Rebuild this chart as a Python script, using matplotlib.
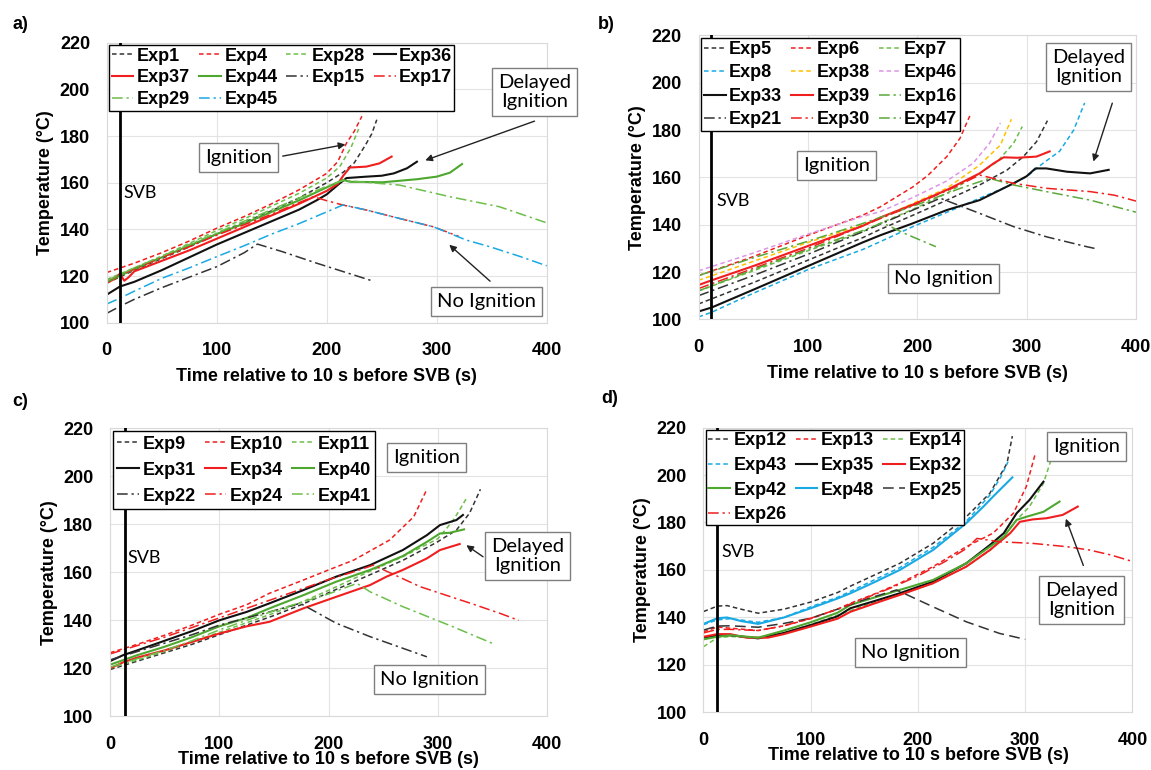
import matplotlib
matplotlib.use('Agg')
import matplotlib.pyplot as plt

plt.rcParams['font.family'] = ['Liberation Sans', 'DejaVu Sans']

# ---------------- data: (time s, temperature degC) ----------------
# panel a
exp1 = [(0, 117), (25, 122.5), (50, 127.5), (75, 132.5), (100, 138), (125, 143), (150, 148), (175, 153.5),
        (200, 160), (215, 164.5), (225, 168.5), (235, 176), (241, 181), (245.5, 187)]
exp4 = [(0, 121.5), (25, 125.5), (50, 130), (75, 135), (100, 140.5), (125, 145.5), (150, 151), (175, 157),
        (200, 164), (210, 169), (218, 177), (225, 182), (232, 188.5)]
exp28 = [(0, 118.5), (25, 123.5), (50, 128.5), (75, 134), (100, 139.5), (125, 144.5), (150, 150), (175, 155.5),
         (200, 162), (212, 167), (222, 175), (229, 183)]
exp36 = [(0, 112), (12, 115.5), (25, 117.5), (50, 122.5), (75, 128), (100, 133.5), (125, 138.5), (150, 143.5),
         (175, 148.5), (191, 152.5), (200, 155), (212, 159.8), (218, 162), (236, 162.6), (250, 163), (261, 164),
         (273, 166.2), (282, 169)]
exp37 = [(0, 117), (8, 119), (12, 121), (16, 118), (20, 119.5), (25, 122), (50, 126.5), (75, 131), (100, 136),
         (125, 141), (150, 146), (175, 151), (200, 156.5), (210, 159.5), (215, 163), (221, 166.5), (236, 166.9),
         (248, 168.3), (259, 171.2)]
exp44 = [(0, 117.5), (25, 123), (50, 128), (75, 133), (100, 138), (125, 142.5), (150, 147.5), (175, 152.5),
         (200, 158), (215, 161.2), (221, 160.4), (251, 160.2), (282, 161.5), (300, 162.6), (312, 164.3), (323, 168)]
exp15 = [(0, 104), (12, 107), (25, 110), (50, 115), (75, 119.5), (100, 124), (125, 130), (137, 133.7),
         (160, 130.4), (191, 125.5), (215, 121.9), (241, 118)]
exp17 = [(0, 118), (25, 123), (50, 128), (75, 132.5), (100, 137.5), (125, 142), (150, 146.5), (175, 151.5),
         (188, 154), (200, 152.3), (215, 150.4), (236, 148.3), (266, 144.7), (297, 141.1), (320, 137)]
exp29 = [(0, 118), (25, 123.5), (50, 128.5), (75, 133.5), (100, 138.5), (125, 143.5), (150, 148.5), (175, 153.5),
         (200, 158.5), (215, 161), (240, 160), (266, 159), (312, 154), (357, 149.7), (400, 142.8)]
exp45 = [(0, 108), (12, 110.5), (25, 113.5), (50, 119), (75, 123.5), (100, 128.3), (125, 133), (150, 138),
         (175, 142.5), (200, 147.5), (215, 150.5), (236, 148.3), (266, 144.7), (297, 141.1), (327, 135.4),
         (348, 132.6), (375, 128.5), (400, 124.4)]

# panel b
exp5 = [(0, 106.5), (50, 115.5), (100, 125), (150, 134.5), (166, 138), (196, 144), (227, 150.4), (257, 156.8),
        (282, 163.1), (297, 168.8), (309, 175.1), (319, 184)]
exp6 = [(0, 118.5), (50, 126.5), (100, 135.5), (150, 144), (166, 147.5), (196, 156), (210, 161), (227, 168.8),
        (239, 176.5), (248, 186)]
exp7 = [(0, 112), (50, 120.5), (100, 129), (150, 137), (166, 140.6), (196, 146.5), (227, 153.3), (257, 161.7),
        (273, 166.6), (288, 174.4), (296, 181.5)]
exp8 = [(0, 101), (12, 103), (50, 111), (100, 121), (150, 129.5), (166, 132.8), (196, 139.2), (239, 147.6),
        (257, 151.2), (282, 156.1), (300, 160.3), (315, 166), (330, 171), (343, 180), (353, 191.5)]
exp38 = [(0, 116.5), (50, 124.5), (100, 132.5), (150, 140), (166, 142.7), (196, 149), (227, 155.4), (257, 165.2),
         (276, 173.7), (286, 184.6)]
exp46 = [(0, 120.5), (50, 128), (100, 136), (150, 143.5), (166, 145.5), (196, 151.5), (227, 158.5), (251, 166),
         (266, 174.4), (276, 183)]
exp33 = [(0, 103.3), (12, 105), (50, 112.5), (100, 122.5), (150, 132.5), (166, 135.5), (196, 140.6), (227, 146.2),
         (257, 150.4), (288, 157.5), (300, 160.5), (308, 163.8), (318, 163.8), (337, 162.4), (358, 161.7),
         (375, 163.2)]
exp39 = [(0, 114.5), (12, 116.5), (50, 122.5), (100, 131), (150, 139.5), (166, 143), (196, 148.5), (227, 154.7),
         (257, 161.7), (270, 166), (279, 168.5), (291, 168.3), (309, 168.8), (321, 171)]
exp16 = [(0, 118.5), (50, 126), (100, 133), (150, 140.5), (200, 148.5), (240, 155.5), (266, 159.6), (288, 156.8),
         (318, 154), (358, 150.4), (400, 145.3)]
exp21 = [(0, 110), (50, 118.5), (100, 127.5), (150, 137), (175, 142), (200, 147), (221, 151.2), (257, 144.8),
         (288, 139.2), (318, 134.9), (355, 130.7), (362, 130)]
exp30 = [(0, 113), (50, 121.5), (100, 130), (150, 139.5), (200, 149), (230, 155), (257, 161), (288, 157.5),
         (318, 155.4), (358, 154), (380, 152.5), (400, 150)]
exp47 = [(0, 112), (50, 121), (100, 129.5), (150, 137.5), (168, 140.8), (190, 136), (217, 130.7)]

# panel c
exp9 = [(0, 119.5), (25, 123), (50, 126.5), (75, 130), (100, 134), (125, 138), (150, 142), (175, 146.5),
        (200, 151.5), (238, 159), (268, 165), (299, 172.5), (317, 177.6), (329, 184.6), (339, 194.6)]
exp10 = [(0, 126.5), (25, 130), (50, 133.8), (75, 138), (100, 142.5), (125, 146.5), (146, 151.3), (177, 156.8),
         (200, 161), (223, 165.1), (256, 173.5), (278, 183.2), (290, 194.6)]
exp11 = [(0, 120), (25, 123.5), (50, 127), (75, 131), (100, 135), (125, 139), (150, 143), (175, 147.5),
         (200, 152.5), (238, 160.5), (268, 166.5), (300, 174), (313, 181), (320, 186), (327, 191.5)]
exp31 = [(0, 123), (12, 125.5), (25, 127.5), (50, 131.5), (75, 135.5), (100, 140), (125, 143.5), (146, 147.1),
         (177, 152.6), (207, 158.2), (238, 163), (268, 169.3), (290, 175.5), (302, 179.7), (317, 181.8),
         (323, 183.9)]
exp34 = [(0, 120), (12, 122.5), (25, 124.5), (50, 127.5), (75, 131), (100, 134.5), (125, 137.5), (146, 139.4),
         (177, 145), (207, 149.8), (238, 154.7), (253, 158.2), (268, 161), (290, 165.8), (302, 169.3), (320, 171.8)]
exp40 = [(0, 121.5), (25, 125.5), (50, 129), (75, 133), (100, 137.5), (125, 141), (146, 145), (177, 150.5),
         (207, 156.1), (238, 161), (268, 166.8), (290, 172.7), (302, 176.2), (311, 176.5), (324, 177.9)]
exp22 = [(0, 123.5), (25, 127), (50, 130.5), (75, 134), (100, 138), (125, 141), (150, 144), (174, 147.1),
         (207, 138.8), (238, 133.2), (290, 124.8)]
exp24 = [(0, 126), (25, 129.5), (50, 133), (75, 137), (100, 141), (125, 145), (150, 149), (175, 153),
         (200, 157), (225, 160.5), (241, 163), (284, 154), (330, 147.1), (357, 142.9), (374, 140)]
exp41 = [(0, 120.5), (25, 124), (50, 127.5), (75, 131.5), (100, 136), (125, 140), (150, 144), (175, 147.5),
         (200, 151), (226, 155.4), (238, 151.9), (268, 145.7), (314, 137.3), (350, 130.4)]

# panel d
exp12 = [(0, 142.5), (13, 144.8), (22, 145), (35, 143.5), (51, 141.8), (75, 143.5), (100, 146.5), (125, 150.5),
         (137, 153.2), (160, 158), (183, 162.8), (214, 171.2), (245, 182.4), (267, 192.3), (283, 204.9),
         (288, 216.4)]
exp13 = [(0, 134), (13, 136), (25, 135.5), (51, 134.5), (75, 136.5), (100, 139.5), (125, 143.5), (137, 146),
         (160, 150), (183, 154.4), (214, 161.4), (245, 169.8), (270, 175.5), (289, 183.9), (301, 195.1),
         (309, 208.4)]
exp14 = [(0, 127.7), (13, 131.5), (25, 132), (51, 131.5), (75, 133.5), (100, 137), (125, 141), (150, 145),
         (183, 149.5), (214, 154.4), (245, 161.4), (268, 168.5), (280, 174.5), (292, 181.1), (304, 186.7),
         (317, 196.5), (325, 207.7)]
exp43 = [(0, 137), (13, 139), (25, 139.5), (51, 138), (75, 140), (100, 144.5), (125, 148.5), (137, 151),
         (160, 156), (183, 161), (214, 169.5), (245, 180.5), (267, 191.5), (277, 199), (284, 205.6)]
exp35 = [(0, 131.5), (13, 132.5), (25, 132.5), (51, 131.2), (75, 133.5), (100, 136.8), (125, 140.5), (137, 143.9),
         (160, 147), (183, 150.2), (214, 155.1), (245, 162.8), (267, 170.5), (280, 175.5), (292, 183.9),
         (304, 189.5), (317, 197.2)]
exp32 = [(0, 131.9), (13, 133), (25, 133), (40, 131.5), (60, 131.5), (75, 133), (100, 136.2), (125, 139.5),
         (137, 142.4), (160, 146), (183, 149.5), (214, 154.4), (245, 161.4), (267, 168.4), (286, 175.5),
         (295, 180.3), (307, 181.3), (320, 181.8), (335, 183.2), (349, 186.7)]
exp42 = [(0, 130.8), (13, 131.9), (25, 132.5), (51, 131.5), (75, 134.5), (100, 138), (125, 142), (137, 145.3),
         (160, 148.5), (183, 151.6), (214, 155.8), (245, 162.8), (267, 169.8), (280, 174), (292, 181.1),
         (301, 182.4), (317, 184.5), (332, 188.8)]
exp48 = [(0, 137.3), (13, 139.7), (22, 140), (35, 138.5), (51, 137.3), (75, 140), (100, 143.9), (125, 148),
         (137, 150.2), (160, 155), (183, 160), (214, 168.4), (245, 179.7), (261, 186.7), (270, 190.9), (288, 199)]
exp25 = [(0, 134.7), (13, 136.4), (25, 136.5), (51, 135.9), (75, 137.5), (100, 139.7), (125, 143.5), (150, 147.5),
         (180, 151.6), (214, 144.5), (245, 138.2), (276, 133.3), (300, 130.8)]
exp26 = [(0, 133.5), (13, 135), (25, 135), (51, 134.5), (75, 136.5), (100, 139.7), (125, 143.5), (150, 148),
         (174, 152.3), (200, 157.5), (225, 163.5), (245, 169), (255, 173.3), (276, 171.9), (307, 171.2),
         (339, 169.8), (360, 168.4), (380, 166.3), (400, 163.6)]

svb_time = [12, 11.5, 13.5, 13]
x_ticks = [0, 100, 200, 300, 400]
y_ticks = [100, 120, 140, 160, 180, 200, 220]

# ---------------- styles ----------------
BLACK, RED, GREEN, CYAN = '#111111', '#f01e1e', '#4ea72e', '#19a9e3'
YELLOW, PINK = '#ffc000', '#dc96e6'
DASH = (0, (3, 2))
DASHDOT = (0, (7, 2.5, 1.5, 2.5))
LONGDASH = (0, (7, 3.5))
SOLID = '-'

panels = [
    dict(tag='a)', ncol=4, lspace=0.27, bpad=0.12, xlpad=6.5, series=[
        ('Exp1', exp1, '#333333', DASH, 1.1), ('Exp4', exp4, RED, DASH, 1.1),
        ('Exp28', exp28, '#6cbf4a', DASH, 1.1), ('Exp36', exp36, BLACK, SOLID, 1.5),
        ('Exp37', exp37, RED, SOLID, 1.5), ('Exp44', exp44, GREEN, SOLID, 1.5),
        ('Exp15', exp15, '#333333', DASHDOT, 1.1), ('Exp17', exp17, RED, DASHDOT, 1.1),
        ('Exp29', exp29, '#6cbf4a', DASHDOT, 1.1), ('Exp45', exp45, CYAN, DASHDOT, 1.1)],
        notes=[('Ignition', (120, 170.9), (160, 171.4), (217, 176.4)),
               ('Delayed\nIgnition', (389, 198.9), (388.9, 186.4), (289.6, 169.6)),
               ('No Ignition', (345, 109.1), (348.5, 117.8), (311.4, 133.4))],
        svb_text=(15.2, 155.4)),
    dict(tag='b)', ncol=3, lspace=0.36, bpad=0.15, xlpad=6.5, series=[
        ('Exp5', exp5, '#333333', DASH, 1.1), ('Exp6', exp6, RED, DASH, 1.1),
        ('Exp7', exp7, '#6cbf4a', DASH, 1.1), ('Exp8', exp8, CYAN, DASH, 1.1),
        ('Exp38', exp38, YELLOW, DASH, 1.1), ('Exp46', exp46, PINK, DASH, 1.1),
        ('Exp33', exp33, BLACK, SOLID, 1.5), ('Exp39', exp39, RED, SOLID, 1.5),
        ('Exp16', exp16, '#5aa83a', DASHDOT, 1.1), ('Exp21', exp21, '#333333', DASHDOT, 1.1),
        ('Exp30', exp30, RED, DASHDOT, 1.1), ('Exp47', exp47, '#5aa83a', DASHDOT, 1.1)],
        notes=[('Ignition', (126.2, 164.9), None, None),
               ('Delayed\nIgnition', (356.7, 206.6), (378.3, 191.4), (361, 166.7)),
               ('No Ignition', (224.2, 117.4), None, None)],
        svb_text=(16, 150)),
    dict(tag='c)', ncol=3, lspace=0.5, bpad=0.25, xlpad=-1.5, series=[
        ('Exp9', exp9, '#333333', DASH, 1.1), ('Exp10', exp10, RED, DASH, 1.1),
        ('Exp11', exp11, '#6cbf4a', DASH, 1.1), ('Exp31', exp31, BLACK, SOLID, 1.5),
        ('Exp34', exp34, RED, SOLID, 1.5), ('Exp40', exp40, GREEN, SOLID, 1.5),
        ('Exp22', exp22, '#333333', DASHDOT, 1.1), ('Exp24', exp24, RED, DASHDOT, 1.1),
        ('Exp41', exp41, '#6cbf4a', DASHDOT, 1.1)],
        notes=[('Ignition', (290, 207.7), None, None),
               ('Delayed\nIgnition', (382.2, 166.8), (341.4, 166.5), (326.1, 171.3)),
               ('No Ignition', (292.5, 115.3), None, None)],
        svb_text=(15.9, 165.8)),
    dict(tag='d)', ncol=3, lspace=0.42, bpad=0.12, xlpad=-1.5, series=[
        ('Exp12', exp12, '#333333', DASH, 1.1), ('Exp13', exp13, RED, DASH, 1.1),
        ('Exp14', exp14, '#6cbf4a', DASH, 1.1), ('Exp43', exp43, CYAN, DASH, 1.1),
        ('Exp35', exp35, BLACK, SOLID, 1.5), ('Exp32', exp32, RED, SOLID, 1.5),
        ('Exp42', exp42, GREEN, SOLID, 1.5), ('Exp48', exp48, CYAN, SOLID, 1.5),
        ('Exp25', exp25, '#333333', LONGDASH, 1.1), ('Exp26', exp26, RED, DASHDOT, 1.1)],
        notes=[('Ignition', (357, 212.1), None, None),
               ('Delayed\nIgnition', (352.6, 147.2), (354.2, 161.9), (337.9, 181.6)),
               ('No Ignition', (192.7, 125.3), None, None)],
        svb_text=(16.3, 167.5)),
]

# axes boxes in figure fractions (left, bottom, width, height)
boxes = [(0.0927, 0.5809, 0.3823, 0.3636), (0.6069, 0.5853, 0.3801, 0.3686),
         (0.0956, 0.0697, 0.3797, 0.3740), (0.6112, 0.0747, 0.3727, 0.3701)]
tag_pos = [(0.011, 0.968), (0.519, 0.968), (0.011, 0.479), (0.522, 0.482)]


def row_major(items, ncol):
    # matplotlib fills legend columns first; reorder so entries read across rows
    return [it for c in range(ncol) for it in items[c::ncol]]


fig = plt.figure(figsize=(11.51, 7.70), dpi=100)

for p, box, tpos, svb in zip(panels, boxes, tag_pos, svb_time):
    ax = fig.add_axes(box)
    handles = []
    for name, pts, color, ls, lw in p['series']:
        t = [q[0] for q in pts]
        T = [q[1] for q in pts]
        h, = ax.plot(t, T, color=color, linestyle=ls, lw=lw, label=name, zorder=2)
        handles.append(h)

    ax.axvline(svb, color='black', lw=2.0, zorder=3)
    ax.text(p['svb_text'][0], p['svb_text'][1], 'SVB', fontsize=13, family='Lato',
            ha='left', va='center', zorder=4)

    for text, xy, tail, tip in p['notes']:
        ax.text(xy[0], xy[1], text, fontsize=14.5, family='Lato', ha='center', va='center',
                linespacing=1.15, zorder=6,
                bbox=dict(boxstyle='square,pad=0.3', fc='white', ec='#7f7f7f', lw=1.0))
        if tail is not None:
            ax.annotate('', xy=tip, xytext=tail, annotation_clip=False,
                        arrowprops=dict(arrowstyle='-|>', color='#222222', lw=1.0,
                                        mutation_scale=10, shrinkA=0, shrinkB=0))

    ax.set_xlim(0, 400)
    ax.set_ylim(100, 220)
    ax.set_xticks(x_ticks)
    ax.set_yticks(y_ticks)
    ax.grid(True, color='#e3e3e3', lw=0.8)
    ax.set_axisbelow(True)
    for s in ax.spines.values():
        s.set_color('#d9d9d9')
        s.set_linewidth(0.8)
    ax.tick_params(length=0, labelsize=13)
    ax.tick_params(axis='x', pad=14)
    ax.tick_params(axis='y', pad=12)
    for lab in ax.get_xticklabels() + ax.get_yticklabels():
        lab.set_fontweight('bold')
    ax.set_xlabel('Time relative to 10 s before SVB (s)', fontsize=13, fontweight='bold',
                  labelpad=p['xlpad'])
    ax.set_ylabel('Temperature (°C)', fontsize=13, fontweight='bold', labelpad=4)

    order = row_major(handles, p['ncol'])
    leg = ax.legend(handles=order, labels=[h.get_label() for h in order], ncol=p['ncol'],
                    loc='upper left', bbox_to_anchor=(0, 1), borderaxespad=0.15,
                    prop={'weight': 'bold', 'size': 13}, handlelength=1.2, handletextpad=0.2,
                    columnspacing=0.5, labelspacing=p['lspace'], borderpad=p['bpad'],
                    fancybox=False, framealpha=1, edgecolor='black')
    leg.get_frame().set_linewidth(1.0)
    leg.set_zorder(5)

    fig.text(tpos[0], tpos[1], p['tag'], fontsize=13, fontweight='bold', ha='left', va='center')

fig.savefig('out.png', dpi=100)
